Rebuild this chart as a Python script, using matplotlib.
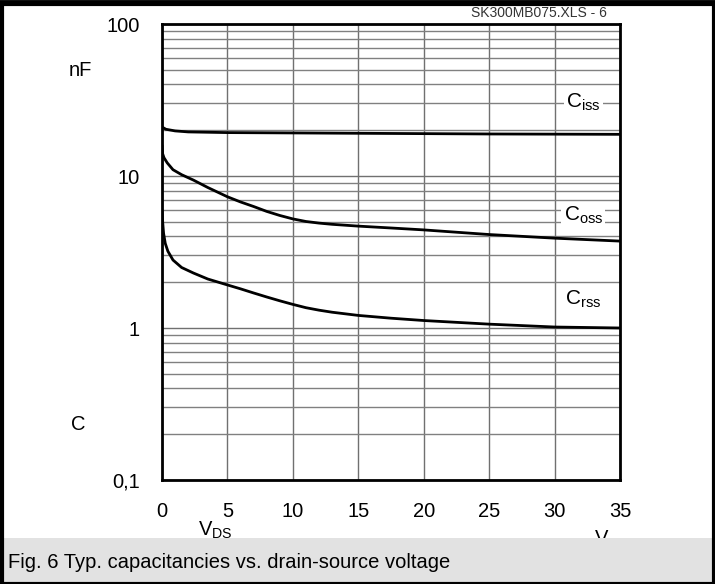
"""
Typ. capacitancies vs. drain-source voltage (SK300MB075, fig. 6).
"""

import matplotlib
matplotlib.use("Agg")
import matplotlib.pyplot as plt
from matplotlib.patches import Rectangle
from matplotlib.ticker import FixedLocator, LogLocator, NullFormatter

plt.rcParams["font.family"] = ["Liberation Sans", "DejaVu Sans"]
plt.rcParams["mathtext.fontset"] = "custom"
plt.rcParams["mathtext.rm"] = "Liberation Sans"
plt.rcParams["mathtext.it"] = "Liberation Sans"

# data (V_DS in V, C in nF)
v_iss = [0, 0.3, 1, 2, 5, 10, 15, 20, 25, 30, 35]
c_iss = [21.0, 20.3, 19.8, 19.5, 19.3, 19.2, 19.1, 19.0, 18.9, 18.85, 18.8]

v_oss = [0, 0.05, 0.15, 0.4, 0.84, 1.5, 2.4, 3.5, 5, 6, 7, 8, 9, 10, 11, 12, 13,
         15, 17.5, 20, 25, 30, 35]
c_oss = [16.0, 14.0, 13.2, 12.2, 11.0, 10.2, 9.4, 8.4, 7.3, 6.75, 6.3, 5.85, 5.5,
         5.22, 5.02, 4.9, 4.81, 4.68, 4.55, 4.42, 4.12, 3.9, 3.73]

v_rss = [0, 0.05, 0.12, 0.25, 0.45, 0.84, 1.5, 2.4, 3.5, 5, 6, 7, 8, 9, 10, 11, 12,
         13, 15, 17.5, 20, 25, 30, 35]
c_rss = [6.0, 5.0, 4.2, 3.6, 3.2, 2.8, 2.5, 2.3, 2.1, 1.92, 1.81, 1.7, 1.6, 1.51,
         1.43, 1.36, 1.31, 1.27, 1.21, 1.16, 1.12, 1.06, 1.015, 1.0]

x_ticks = [0, 5, 10, 15, 20, 25, 30, 35]
y_ticks = [0.1, 1, 10, 100]
y_tick_labels = ["0,1", "1", "10", "100"]

fig = plt.figure(figsize=(7.15, 5.84), dpi=100)
ax = fig.add_axes([162 / 715, 1 - 480 / 584, (620 - 162) / 715, (480 - 24) / 584])

ax.set_yscale("log")
ax.set_xlim(0, 35)
ax.set_ylim(0.1, 100)

ax.xaxis.set_major_locator(FixedLocator(x_ticks))
ax.set_yticks(y_ticks)
ax.set_yticklabels(y_tick_labels)
ax.yaxis.set_minor_locator(LogLocator(base=10, subs=range(2, 10)))
ax.yaxis.set_minor_formatter(NullFormatter())
ax.tick_params(which="both", length=0, labelsize=14.5)
ax.tick_params(axis="x", pad=16)
ax.tick_params(axis="y", pad=16)

ax.grid(True, which="major", axis="both", color="#707070", lw=1.0)
ax.grid(True, which="minor", axis="y", color="#808080", lw=1.0)
ax.set_axisbelow(True)
for sp in ax.spines.values():
    sp.set_linewidth(2.0)
    sp.set_color("black")

for v, c in [(v_iss, c_iss), (v_oss, c_oss), (v_rss, c_rss)]:
    ax.plot(v, c, color="black", lw=2.0, solid_capstyle="butt", zorder=3)

lbl = dict(fontsize=15, ha="center", va="center", zorder=4,
           bbox=dict(facecolor="white", edgecolor="none", pad=1.5))
ax.text(32.2, 30.5, r"C$_{\mathrm{iss}}$", **lbl)
ax.text(32.2, 5.5, r"C$_{\mathrm{oss}}$", **lbl)
ax.text(32.2, 1.55, r"C$_{\mathrm{rss}}$", **lbl)

# axis unit labels placed like the datasheet
fig.text(80 / 715, 1 - 70 / 584, "nF", fontsize=14.5, ha="center", va="center")
fig.text(78 / 715, 1 - 425 / 584, "C", fontsize=14.5, ha="center", va="center")
fig.text(215 / 715, 1 - 530 / 584, r"V$_{\mathrm{DS}}$", fontsize=14.5, ha="center", va="center")
fig.text(602 / 715, 1 - 538 / 584, "V", fontsize=14.5, ha="center", va="center")
fig.text(607 / 715, 1 - 13 / 584, "SK300MB075.XLS - 6", fontsize=10, ha="right",
         va="center", color="#333333")

# caption box and outer frame
fig.patches.append(Rectangle((3 / 715, 0), 709 / 715, 46 / 584, transform=fig.transFigure,
                             facecolor="#e2e2e2", edgecolor="none", zorder=5))
fig.text(8 / 715, 1 - 562 / 584, "Fig. 6 Typ. capacitancies vs. drain-source voltage",
         fontsize=14.5, ha="left", va="center", zorder=6)
fig.patches.append(Rectangle((1.5 / 715, 0), 712 / 715, 580 / 584, transform=fig.transFigure,
                             facecolor="none", edgecolor="black", lw=3, zorder=7))
fig.add_artist(plt.Line2D([0, 1], [1 - 2 / 584, 1 - 2 / 584], transform=fig.transFigure,
                          color="black", lw=3.5, zorder=7))

fig.savefig("out.png", dpi=100)
